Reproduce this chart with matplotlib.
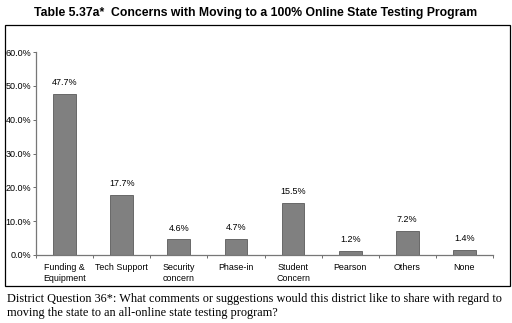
import matplotlib.pyplot as plt
from matplotlib.patches import Rectangle
from matplotlib.ticker import FixedLocator, PercentFormatter

categories = ["Funding &\nEquipment", "Tech Support", "Security\nconcern", "Phase-in",
              "Student\nConcern", "Pearson", "Others", "None"]
values = [47.7, 17.7, 4.6, 4.7, 15.5, 1.2, 7.2, 1.4]

fig = plt.figure(figsize=(5.12, 3.23), dpi=100)
W, H = 512, 323

# outer chart box
fig.patches.append(Rectangle((5 / W, 1 - 286 / H), 505 / W, 261 / H, transform=fig.transFigure,
                             fill=False, edgecolor="black", linewidth=0.9))

ax = fig.add_axes([36 / W, 1 - 255 / H, 457 / W, 203 / H])
x = range(len(values))
ax.bar(x, values, width=0.4, color="#808080", edgecolor="#5a5a5a", linewidth=0.6)
for xi, v in zip(x, values):
    ax.text(xi, v + 2.0, f"{v:.1f}%", ha="center", va="bottom", fontsize=6.5,
            family="Liberation Sans")

ax.set_xlim(-0.5, len(values) - 0.5)
ax.set_ylim(0, 60)
ax.set_yticks(range(0, 61, 10))
ax.yaxis.set_major_formatter(PercentFormatter(decimals=1))
ax.set_xticks(list(x))
ax.set_xticklabels(categories, fontsize=6.4, family="Liberation Sans", linespacing=1.25)
ax.tick_params(axis="x", which="major", length=0, pad=6)
ax.xaxis.set_minor_locator(FixedLocator([i - 0.5 for i in range(len(values) + 1)]))
ax.tick_params(axis="x", which="minor", length=2.5, width=0.6, color="#555555")
ax.tick_params(axis="y", length=2.5, width=0.6, labelsize=6.5, color="#555555", pad=1)
for lbl in ax.get_yticklabels():
    lbl.set_family("Liberation Sans")
for side in ["top", "right"]:
    ax.spines[side].set_visible(False)
for side in ["left", "bottom"]:
    ax.spines[side].set_color("#777777")
    ax.spines[side].set_linewidth(0.9)

fig.text(0.5, 1 - 13 / H, "Table 5.37a*  Concerns with Moving to a 100% Online State Testing Program",
         ha="center", va="center", fontsize=8.8, fontweight="bold", family="Liberation Sans")
fig.text(7 / W, 1 - 299 / H,
         "District Question 36*: What comments or suggestions would this district like to share with regard to",
         ha="left", va="center", fontsize=8.8, family="Liberation Serif")
fig.text(7 / W, 1 - 313 / H, "moving the state to an all-online state testing program?",
         ha="left", va="center", fontsize=8.8, family="Liberation Serif")

fig.savefig("out.png", dpi=100)
